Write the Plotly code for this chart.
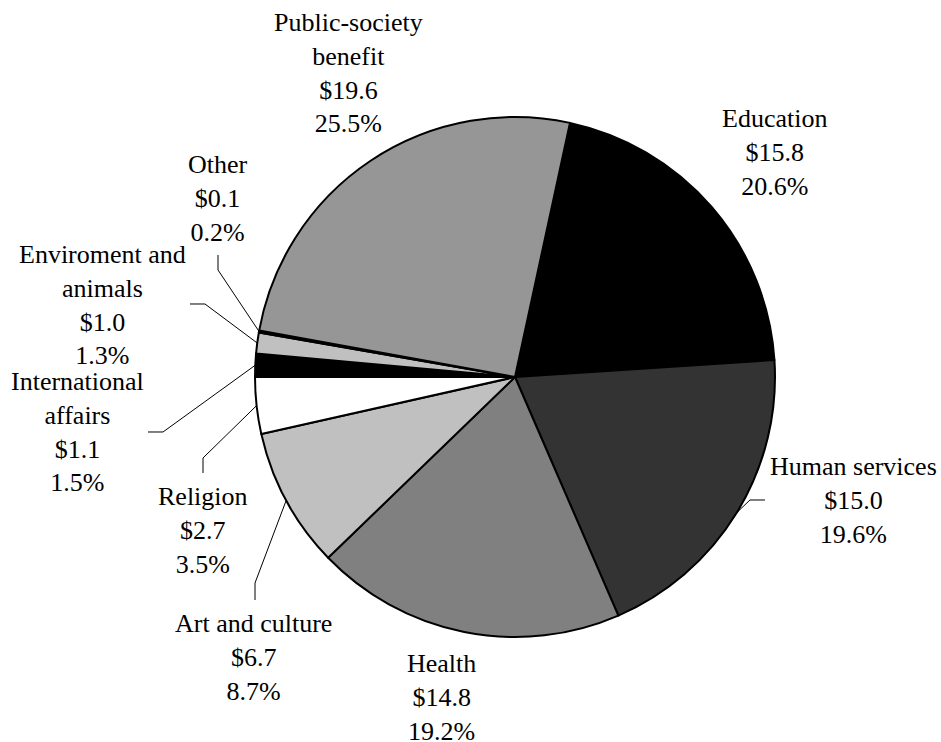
import math
import plotly.graph_objects as go

# ---------------- data ----------------
categories = ["Education", "Human services", "Health", "Art and culture", "Religion",
              "International affairs", "Enviroment and animals", "Other",
              "Public-society benefit"]
values = [15.8, 15.0, 14.8, 6.7, 2.7, 1.1, 1.0, 0.1, 19.6]
dollar_labels = ["$15.8", "$15.0", "$14.8", "$6.7", "$2.7", "$1.1", "$1.0", "$0.1", "$19.6"]
percent_labels = ["20.6%", "19.6%", "19.2%", "8.7%", "3.5%", "1.5%", "1.3%", "0.2%", "25.5%"]
display_names = ["Education", "Human services", "Health", "Art and culture", "Religion",
                 "International<br>affairs", "Enviroment and<br>animals", "Other",
                 "Public-society<br>benefit"]

# ---------------- style / layout ----------------
W, H = 941, 742
CX, CY, R = 515, 377, 260          # pie centre and radius in pixels
ROT = 12.2                         # first slice angle (clockwise from 12 o'clock)
colors = ["#000000", "#333333", "#808080", "#C0C0C0", "#FFFFFF",
          "#000000", "#C0C0C0", "#000080", "#969696"]
FONT = "'Times New Roman', 'Liberation Serif', Tinos, 'DejaVu Serif', serif"

# label block centres (pixels)
label_pos = {
    "Education": (774, 152),
    "Human services": (853, 500),
    "Health": (441, 697),
    "Art and culture": (254, 657),
    "Religion": (203, 530),
    "International affairs": (77, 432),
    "Enviroment and animals": (102, 305),
    "Other": (218, 199),
    "Public-society benefit": (348, 73),
}
# leader-line start and elbow (pixels); end point is computed on the slice edge
leader_pts = {
    "Human services": [(765, 500), (750, 500)],
    "Art and culture": [(255, 600), (255, 583)],
    "Religion": [(203, 473), (203, 458)],
    "International affairs": [(148, 432), (163, 432)],
    "Enviroment and animals": [(190, 304), (205, 304)],
    "Other": [(218, 255), (218, 270)],
}


def px2paper(x, y):
    return x / W, 1 - y / H


fig = go.Figure(go.Pie(
    labels=categories, values=values, sort=False, direction="clockwise",
    rotation=ROT, textinfo="none", hoverinfo="skip", showlegend=False,
    marker=dict(colors=colors, line=dict(color="black", width=2)),
    domain=dict(x=[(CX - R) / W, (CX + R) / W], y=[1 - (CY + R) / H, 1 - (CY - R) / H]),
))

total = sum(values)
cum = 0.0
annotations = []
shapes = []
for name, v, disp, dl, pl in zip(categories, values, display_names, dollar_labels, percent_labels):
    mid = math.radians(ROT + (cum + v / 2) / total * 360)
    cum += v
    ex, ey = CX + R * math.sin(mid), CY - R * math.cos(mid)
    lx, ly = label_pos[name]
    px, py = px2paper(lx, ly)
    annotations.append(dict(
        x=px, y=py, xref="paper", yref="paper", xanchor="center", yanchor="middle",
        text=f"{disp}<br>{dl}<br>{pl}", showarrow=False, align="center",
        font=dict(family=FONT, size=26, color="black"),
    ))
    if name in leader_pts:
        pts = leader_pts[name] + [(ex, ey)]
        pp = [px2paper(x, y) for x, y in pts]
        path = "M " + " L ".join(f"{a:.5f},{b:.5f}" for a, b in pp)
        shapes.append(dict(type="path", path=path, xref="paper", yref="paper",
                           line=dict(color="black", width=1)))

fig.update_layout(
    width=W, height=H, margin=dict(l=0, r=0, t=0, b=0),
    paper_bgcolor="white", plot_bgcolor="white",
    font=dict(family=FONT),
    annotations=annotations, shapes=shapes,
)

fig.write_html("out.html", config={"displayModeBar": False},
               post_script="document.body.style.margin='0';")
